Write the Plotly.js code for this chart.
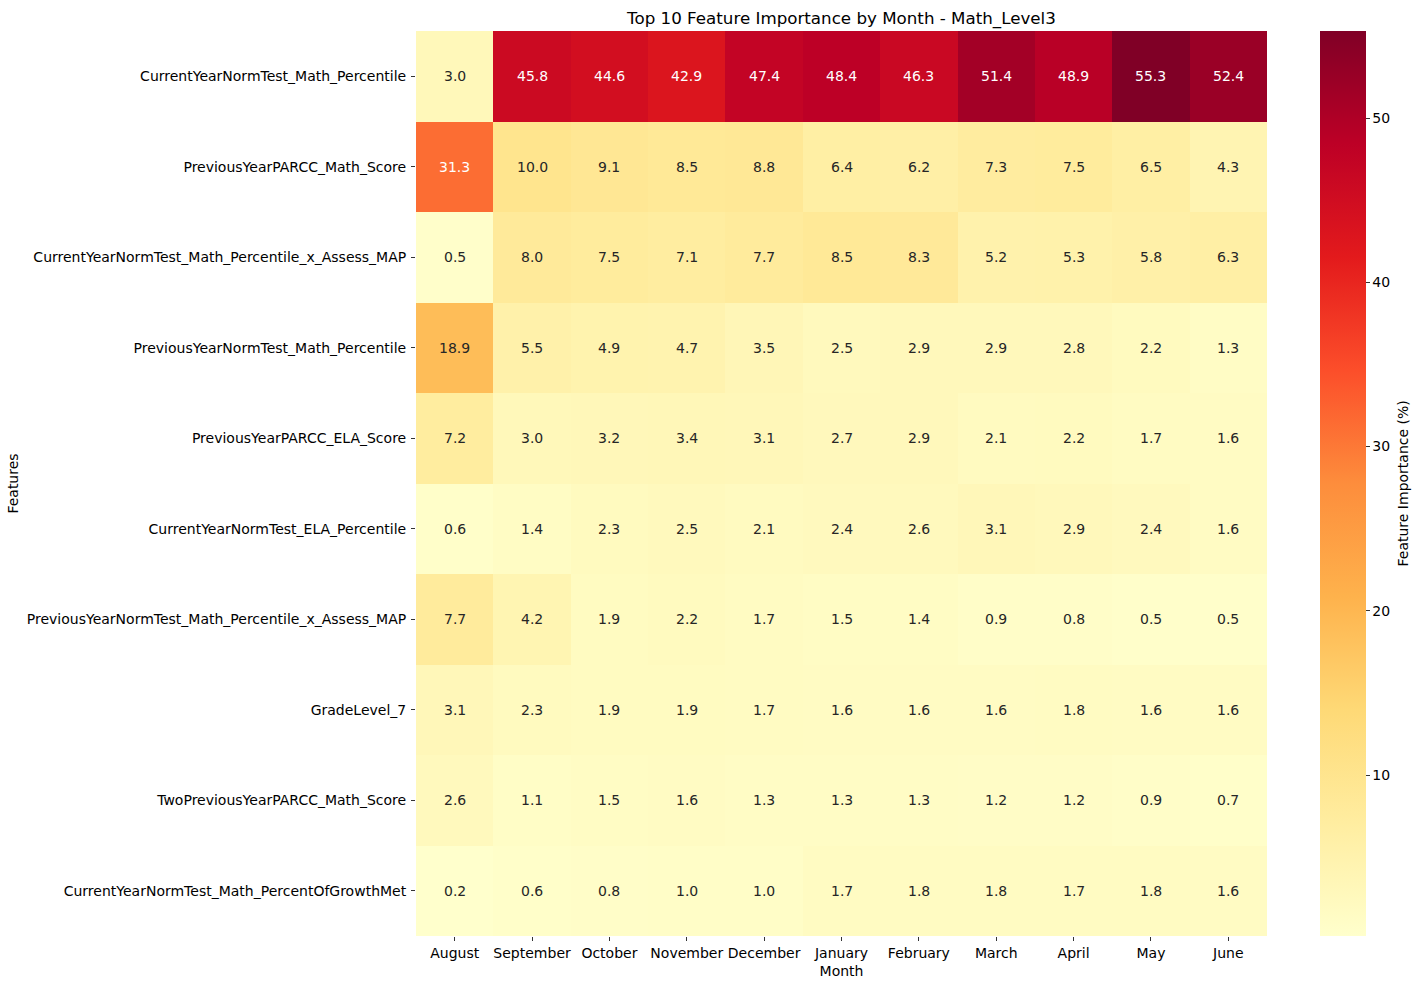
<!DOCTYPE html>
<html>
<head>
<meta charset="utf-8">
<script src="https://cdn.plot.ly/plotly-3.0.1.min.js"></script>
<style>html,body{margin:0;padding:0;background:#fff;}#chart{width:1422px;height:989px;}</style>
</head>
<body>
<div id="chart"></div>
<script>
const months = ["August","September","October","November","December","January","February","March","April","May","June"];
const features = [
  "CurrentYearNormTest_Math_Percentile",
  "PreviousYearPARCC_Math_Score",
  "CurrentYearNormTest_Math_Percentile_x_Assess_MAP",
  "PreviousYearNormTest_Math_Percentile",
  "PreviousYearPARCC_ELA_Score",
  "CurrentYearNormTest_ELA_Percentile",
  "PreviousYearNormTest_Math_Percentile_x_Assess_MAP",
  "GradeLevel_7",
  "TwoPreviousYearPARCC_Math_Score",
  "CurrentYearNormTest_Math_PercentOfGrowthMet"
];
const currNormMathPct      = [3.0,45.8,44.6,42.9,47.4,48.4,46.3,51.4,48.9,55.3,52.4];
const prevParccMath        = [31.3,10.0,9.1,8.5,8.8,6.4,6.2,7.3,7.5,6.5,4.3];
const currNormMathPctMAP   = [0.5,8.0,7.5,7.1,7.7,8.5,8.3,5.2,5.3,5.8,6.3];
const prevNormMathPct      = [18.9,5.5,4.9,4.7,3.5,2.5,2.9,2.9,2.8,2.2,1.3];
const prevParccELA         = [7.2,3.0,3.2,3.4,3.1,2.7,2.9,2.1,2.2,1.7,1.6];
const currNormELAPct       = [0.6,1.4,2.3,2.5,2.1,2.4,2.6,3.1,2.9,2.4,1.6];
const prevNormMathPctMAP   = [7.7,4.2,1.9,2.2,1.7,1.5,1.4,0.9,0.8,0.5,0.5];
const gradeLevel7          = [3.1,2.3,1.9,1.9,1.7,1.6,1.6,1.6,1.8,1.6,1.6];
const twoPrevParccMath     = [2.6,1.1,1.5,1.6,1.3,1.3,1.3,1.2,1.2,0.9,0.7];
const currNormMathGrowth   = [0.2,0.6,0.8,1.0,1.0,1.7,1.8,1.8,1.7,1.8,1.6];

const z = [currNormMathPct, prevParccMath, currNormMathPctMAP, prevNormMathPct, prevParccELA,
           currNormELAPct, prevNormMathPctMAP, gradeLevel7, twoPrevParccMath, currNormMathGrowth];

const ylorrd = ["#ffffcc","#ffeda0","#fed976","#feb24c","#fd8d3c","#fc4e2a","#e31a1c","#bd0026","#800026"];
const colorscale = ylorrd.map((c,i)=>[i/(ylorrd.length-1), c]);

const allVals = z.flat();
const zmin = Math.min(...allVals), zmax = Math.max(...allVals);

const FONT = "DejaVu Sans, sans-serif";
const annotations = [];
z.forEach((row, ri) => {
  row.forEach((v, ci) => {
    annotations.push({
      x: months[ci], y: features[ri], xref: "x", yref: "y",
      text: v.toFixed(1), showarrow: false,
      font: {family: FONT, size: 14, color: v > 25 ? "#ffffff" : "#262626"}
    });
  });
});
annotations.push({
  xref: "paper", yref: "paper", x: 1.1598, y: 0.5, xanchor: "center", yanchor: "middle",
  text: "Feature Importance (%)", textangle: -90, showarrow: false,
  font: {family: FONT, size: 14, color: "#000"}
});

const trace = {
  type: "heatmap", x: months, y: features, z: z,
  colorscale: colorscale, zmin: zmin, zmax: zmax, xgap: 0, ygap: 0,
  hoverongaps: false,
  colorbar: {
    x: 1.0623, xanchor: "left", xref: "paper", y: 0.5, yanchor: "middle",
    len: 1, lenmode: "fraction", thickness: 46, thicknessmode: "pixels",
    outlinewidth: 0, ypad: 0, xpad: 0,
    tickvals: [10,20,30,40,50], ticks: "outside", ticklen: 4, tickwidth: 1, tickcolor: "#333",
    ticklabelstandoff: 3,
    tickfont: {family: FONT, size: 14, color: "#000"}
  }
};

const layout = {
  width: 1422, height: 989,
  margin: {l: 416, r: 155, t: 31, b: 53, pad: 0},
  paper_bgcolor: "#fff", plot_bgcolor: "#fff",
  font: {family: FONT, size: 14, color: "#000"},
  title: {text: "Top 10 Feature Importance by Month - Math_Level3", x: 0.5, xref: "paper", y: 0.982, yanchor: "middle",
          font: {family: FONT, size: 16.7, color: "#000"}},
  xaxis: {
    title: {text: "Month", font: {family: FONT, size: 14}, standoff: 6},
    ticks: "outside", ticklen: 4, tickwidth: 1, tickcolor: "#333",
    showgrid: false, zeroline: false, showline: false,
    tickfont: {family: FONT, size: 14, color: "#000"}
  },
  yaxis: {
    title: {text: "Features", font: {family: FONT, size: 14}, standoff: 4},
    autorange: "reversed",
    ticks: "outside", ticklen: 4, tickwidth: 1, tickcolor: "#333",
    ticklabelstandoff: 2,
    showgrid: false, zeroline: false, showline: false,
    tickfont: {family: FONT, size: 14, color: "#000"}
  },
  annotations: annotations
};

Plotly.newPlot("chart", [trace], layout, {displayModeBar: false, responsive: false});
</script>
</body>
</html>
